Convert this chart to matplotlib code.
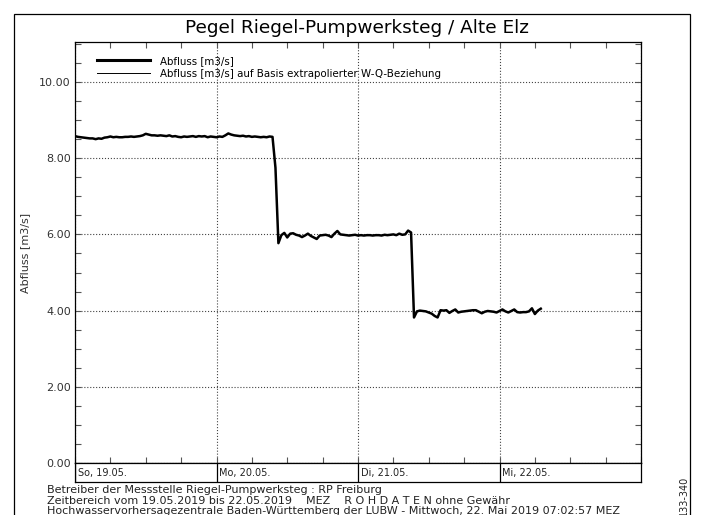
import pandas as pd
import matplotlib
matplotlib.use('Agg')
import matplotlib.pyplot as plt
import matplotlib.dates as mdates
from matplotlib.ticker import MultipleLocator, FixedLocator
from matplotlib.lines import Line2D
from matplotlib.patches import Rectangle

# Abfluss [m3/s], 30-Minuten-Werte ab 19.05.2019 00:00
abfluss = [
    8.58, 8.56, 8.55, 8.54, 8.53, 8.52, 8.52, 8.50, 8.52, 8.51,
    8.54, 8.55, 8.57, 8.55, 8.56, 8.55, 8.55, 8.56, 8.56, 8.57,
    8.56, 8.57, 8.58, 8.60, 8.64, 8.62, 8.60, 8.60, 8.59, 8.60,
    8.59, 8.58, 8.60, 8.57, 8.58, 8.56, 8.55, 8.57, 8.56, 8.57,
    8.58, 8.56, 8.58, 8.57, 8.58, 8.55, 8.57, 8.56, 8.55, 8.57,
    8.56, 8.60, 8.65, 8.62, 8.60, 8.59, 8.58, 8.59, 8.57, 8.58,
    8.56, 8.57, 8.56, 8.55, 8.56, 8.55, 8.57, 8.56,
    7.75,
    5.77, 5.98, 6.04, 5.92, 6.02, 6.03, 5.99, 5.97, 5.93, 5.97,
    6.02, 5.96, 5.92, 5.88, 5.97, 5.98, 5.99, 5.97, 5.93, 6.02,
    6.09, 6.00, 5.99, 5.98, 5.97, 5.98, 5.99, 5.97, 5.98, 5.97,
    5.98, 5.98, 5.97, 5.98, 5.98, 5.97, 5.99, 5.98, 5.99, 6.00,
    5.98, 6.02, 5.99, 6.00, 6.10, 6.05,
    3.82,
    3.98, 4.00, 3.99, 3.98, 3.95, 3.92, 3.86, 3.82, 4.01, 4.00,
    4.01, 3.94, 3.99, 4.03, 3.95, 3.97, 3.98, 3.99, 4.00, 4.01,
    4.01, 3.97, 3.93, 3.97, 3.99, 3.98, 3.97, 3.95, 3.99, 4.03,
    3.98, 3.95, 3.99, 4.03, 3.96, 3.95, 3.96, 3.96, 3.98, 4.06,
    3.91, 4.00, 4.05,
]
zeit = pd.date_range('2019-05-19 00:00', periods=len(abfluss), freq='30min')

tage = ['So, 19.05.', 'Mo, 20.05.', 'Di, 21.05.', 'Mi, 22.05.']
tag_start = pd.date_range('2019-05-19', periods=4, freq='D')
y_ticks = [0, 2, 4, 6, 8, 10]

W, H = 701, 515
fig = plt.figure(figsize=(W / 100, H / 100), dpi=100)
plt.rcParams['font.family'] = ['DejaVu Sans']

# Rahmen um das ganze Blatt
fig.add_artist(Rectangle((14 / W, -0.05), (690 - 14) / W, 1.05 - 14 / H,
                         transform=fig.transFigure, fill=False, lw=0.9, ec='black'))

fig.text(357 / W, 1 - 28 / H, 'Pegel Riegel-Pumpwerksteg / Alte Elz',
         ha='center', va='center', fontsize=13.3)

# Hauptdiagramm
ax = fig.add_axes([75 / W, 1 - 463 / H, 566 / W, 421 / H])
ax.plot(zeit, abfluss, color='black', lw=1.8, zorder=3)
ax.set_xlim(pd.Timestamp('2019-05-19'), pd.Timestamp('2019-05-23'))
ax.set_ylim(0, 11.05)
ax.xaxis.set_major_locator(mdates.DayLocator())
ax.xaxis.set_minor_locator(mdates.HourLocator(byhour=[6, 12, 18]))
ax.yaxis.set_major_locator(FixedLocator(y_ticks))
ax.yaxis.set_minor_locator(MultipleLocator(0.5))
ax.set_yticklabels(['%.2f' % v for v in y_ticks], fontsize=8, color='#333333')
ax.tick_params(which='both', direction='in', top=True, right=True,
               length=4.5, width=0.8, color='#555555', labelbottom=False, pad=3)
ax.grid(which='major', linestyle=':', color='#444444', lw=0.8)
for s in ax.spines.values():
    s.set_linewidth(0.9)
ax.set_ylabel('Abfluss [m3/s]', fontsize=8, color='#333333')
ax.yaxis.set_label_coords(-45 / 566, 0.5)

leg_handles = [Line2D([], [], color='black', lw=2.2),
               Line2D([], [], color='black', lw=0.7)]
leg_labels = ['Abfluss [m3/s]', 'Abfluss [m3/s] auf Basis extrapolierter W-Q-Beziehung']
ax.legend(leg_handles, leg_labels, loc='upper left', frameon=False, fontsize=7.4,
          handlelength=5.2, handletextpad=0.95, labelspacing=0.3, borderpad=0,
          borderaxespad=0, bbox_to_anchor=(22 / 566, 1 - 14 / 421))

# Datumsleiste unter dem Diagramm
ax2 = fig.add_axes([75 / W, 1 - 482 / H, 566 / W, 19 / H])
ax2.set_xlim(pd.Timestamp('2019-05-19'), pd.Timestamp('2019-05-23'))
ax2.set_ylim(0, 1)
ax2.set_xticks([])
ax2.set_yticks([])
for s in ax2.spines.values():
    s.set_linewidth(0.9)
for t, lab in zip(tag_start, tage):
    ax2.axvline(t, color='black', lw=0.9)
    ax2.text(t + pd.Timedelta(minutes=30), 0.45, lab, fontsize=7,
             ha='left', va='center', color='#222222')

# Fußzeilen
fuss = ['Betreiber der Messstelle Riegel-Pumpwerksteg : RP Freiburg',
        'Zeitbereich vom 19.05.2019 bis 22.05.2019    MEZ    R O H D A T E N ohne Gewähr',
        'Hochwasservorhersagezentrale Baden-Württemberg der LUBW - Mittwoch, 22. Mai 2019 07:02:57 MEZ']
for i, zeile in enumerate(fuss):
    fig.text(47 / W, 1 - (490 + i * 10.5) / H, zeile, fontsize=8,
             ha='left', va='center', color='#222222')

fig.text(684 / W, 1 - 496 / H, '133-340', rotation=90, fontsize=7,
         ha='center', va='center', color='#222222')

fig.savefig('out.png', dpi=100)
